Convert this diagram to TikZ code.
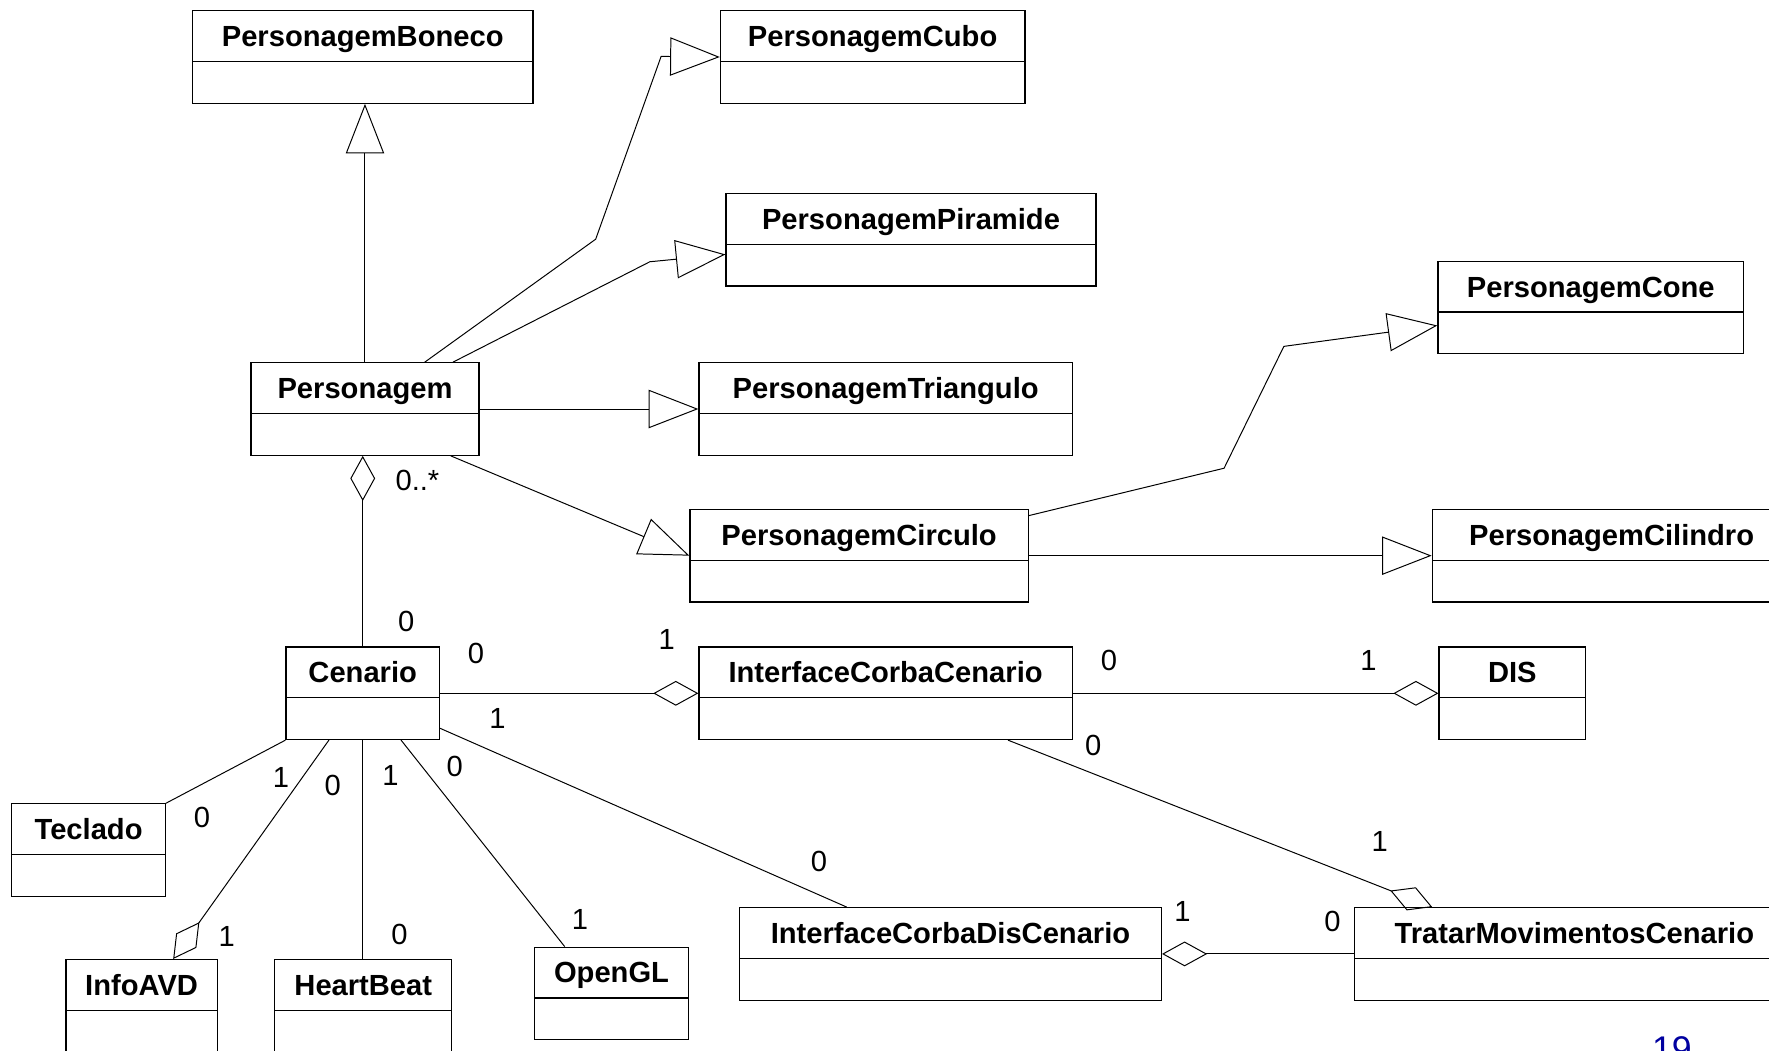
\documentclass[tikz,border=0pt]{standalone}
\usepackage{fontspec}
\setmainfont{Liberation Sans}
\usetikzlibrary{arrows.meta}
\definecolor{pagenum}{RGB}{0,0,160}
\tikzset{
  classbox/.style={draw, line width=0.6pt, anchor=north west, inner sep=0pt,
    minimum height=1.64cm, text height=0.635cm, text depth=1.005cm,
    font=\bfseries\fontsize{14.7}{17}\selectfont,
    path picture={\draw[line width=0.6pt]
      ([yshift=-0.9cm]path picture bounding box.north west) --
      ([yshift=-0.9cm]path picture bounding box.north east);}},
  mult/.style={inner sep=0pt, font=\fontsize{14.7}{17}\selectfont},
  gener/.style={-{Triangle[open,length=0.88cm,width=0.68cm]}},
  aggr/.style={-{Diamond[open,length=0.8cm,width=0.44cm]}}
}
\begin{document}
\begin{tikzpicture}[x=0.02cm, y=-0.02cm, line width=0.5pt]
            \useasboundingbox (0,0) rectangle (1568,931);
            \node[classbox, minimum width=6.04cm] (boneco) at (170,9) {PersonagemBoneco};
            \node[classbox, minimum width=5.40cm] (cubo) at (638,9) {PersonagemCubo};
            \node[classbox, minimum width=6.56cm] (piramide) at (643,171) {PersonagemPiramide};
            \node[classbox, minimum width=5.42cm] (cone) at (1274,231) {PersonagemCone};
            \node[classbox, minimum width=4.04cm] (pers) at (222,321) {Personagem};
            \node[classbox, minimum width=6.62cm] (triangulo) at (619,321) {PersonagemTriangulo};
            \node[classbox, minimum width=6.00cm] (circulo) at (611,451) {PersonagemCirculo};
            \node[classbox, minimum width=6.36cm] (cilindro) at (1269,451) {PersonagemCilindro};
            \node[classbox, minimum width=2.72cm] (cenario) at (253,573) {Cenario};
            \node[classbox, minimum width=6.62cm] (icc) at (619,573) {InterfaceCorbaCenario};
            \node[classbox, minimum width=2.60cm] (dis) at (1275,573) {DIS};
            \node[classbox, minimum width=2.72cm] (teclado) at (10,712) {Teclado};
            \node[classbox, minimum width=2.68cm] (infoavd) at (58,850) {InfoAVD};
            \node[classbox, minimum width=3.14cm] (heartbeat) at (243,850) {HeartBeat};
            \node[classbox, minimum width=2.74cm] (opengl) at (473,839) {OpenGL};
            \node[classbox, minimum width=7.48cm] (icdis) at (655,804) {InterfaceCorbaDisCenario};
            \node[classbox, minimum width=7.80cm] (tratar) at (1200,804) {TratarMovimentosCenario};

            \draw[gener] (pers.north) -- (pers.north |- boneco.south);
            \draw[gener] ([xshift=1.06cm]pers.north) -- (528,212) -- (586,50) -- (cubo.west);
            \draw[gener] ([xshift=1.56cm]pers.north) -- (576,232) -- ([yshift=-0.26cm]piramide.west);
            \draw[gener] (pers.east) -- (triangulo.west);
            \draw[gener] ([xshift=1.52cm]pers.south) -- (circulo.west);
            \draw[gener] ([yshift=-0.12cm]circulo.north east) -- (1085,415) -- (1138,307)
                -- ([yshift=-0.32cm]cone.west);
            \draw[gener] (circulo.east) -- (cilindro.west);

            \draw[aggr] (cenario.north) -- (cenario.north |- pers.south);
            \draw[aggr] (cenario.east) -- (icc.west);
            \draw[aggr] (icc.east) -- (dis.west);
            \draw[aggr] ([xshift=2.17cm]icc.south) -- ([xshift=-2.52cm]tratar.north);
            \draw[aggr] (tratar.west) -- (icdis.east);
            \draw[aggr] ([xshift=-0.6cm]cenario.south) -- ([xshift=0.56cm]infoavd.north);
            \draw[] ([yshift=-0.62cm]cenario.east) -- ([xshift=-1.84cm]icdis.north);
            \draw[] (cenario.south west) -- (teclado.north east);
            \draw[] (cenario.south) -- (cenario.south |- heartbeat.north);
            \draw[] ([xshift=0.68cm]cenario.south) -- ([xshift=-0.83cm]opengl.north);

            \node[mult] (m1) at (370,426) {0..*};
            \node[mult] (m2) at (360,551) {0};
            \node[mult] (m3) at (422,579) {0};
            \node[mult] (m4) at (591,567) {1};
            \node[mult] (m5) at (983,585) {0};
            \node[mult] (m6) at (1213,585) {1};
            \node[mult] (m7) at (969,661) {0};
            \node[mult] (m8) at (1223,746) {1};
            \node[mult] (m9) at (441,637) {1};
            \node[mult] (m10) at (726,764) {0};
            \node[mult] (m11) at (1048,808) {1};
            \node[mult] (m12) at (1181,817) {0};
            \node[mult] (m13) at (179,725) {0};
            \node[mult] (m14) at (249,689) {1};
            \node[mult] (m15) at (201,830) {1};
            \node[mult] (m16) at (295,696) {0};
            \node[mult] (m17) at (346,687) {1};
            \node[mult] (m18) at (403,679) {0};
            \node[mult] (m19) at (354,828) {0};
            \node[mult] (m20) at (514,815) {1};
            \node[text=pagenum, anchor=base, inner sep=0pt, font=\fontsize{18}{20}\selectfont] (pagina) at (1482,941) {19};
\end{tikzpicture}
\end{document}
